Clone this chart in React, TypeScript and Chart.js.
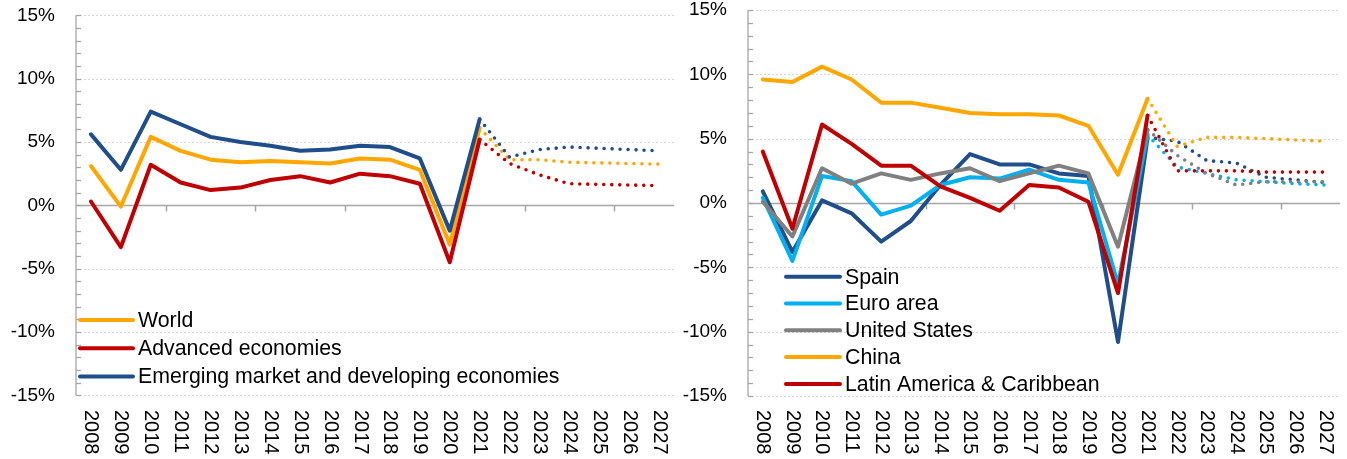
import React, { useEffect, useRef } from "react";
import { Chart, registerables } from "chart.js";

Chart.register(...registerables);

const FONT = "'Liberation Sans', Arial, Helvetica, sans-serif";

const years = [
  "2008", "2009", "2010", "2011", "2012", "2013", "2014", "2015", "2016", "2017",
  "2018", "2019", "2020", "2021", "2022", "2023", "2024", "2025", "2026", "2027",
];
const forecastFrom = 13; // 2021: dotted afterwards

const yTickValues = [-15, -10, -5, 0, 5, 10, 15];

// Left panel
const worldGrowth = [3.1, -0.1, 5.4, 4.3, 3.6, 3.4, 3.5, 3.4, 3.3, 3.7, 3.6, 2.8, -3.1, 6.1, 3.6, 3.6, 3.4, 3.35, 3.3, 3.25];
const advancedGrowth = [0.3, -3.3, 3.2, 1.8, 1.2, 1.4, 2.0, 2.3, 1.8, 2.5, 2.3, 1.7, -4.5, 5.2, 3.3, 2.4, 1.7, 1.65, 1.6, 1.55];
const emergingGrowth = [5.6, 2.8, 7.4, 6.4, 5.4, 5.0, 4.7, 4.3, 4.4, 4.7, 4.6, 3.7, -2.0, 6.8, 3.8, 4.4, 4.6, 4.5, 4.4, 4.3];

// Right panel
const spainGrowth = [0.9, -3.8, 0.2, -0.8, -3.0, -1.4, 1.4, 3.8, 3.0, 3.0, 2.3, 2.1, -10.8, 5.1, 4.8, 3.3, 3.1, 2.0, 1.8, 1.6];
const euroGrowth = [0.4, -4.5, 2.1, 1.7, -0.9, -0.2, 1.4, 2.0, 1.9, 2.6, 1.8, 1.6, -6.3, 5.3, 2.8, 2.3, 1.8, 1.65, 1.5, 1.4];
const usGrowth = [0.1, -2.6, 2.7, 1.5, 2.3, 1.8, 2.3, 2.7, 1.7, 2.3, 2.9, 2.3, -3.4, 5.7, 3.7, 2.3, 1.4, 1.65, 1.65, 1.65];
const chinaGrowth = [9.6, 9.4, 10.6, 9.6, 7.8, 7.8, 7.4, 7.0, 6.9, 6.9, 6.8, 6.0, 2.2, 8.1, 4.4, 5.1, 5.1, 5.0, 4.9, 4.8];
const latamGrowth = [4.0, -2.0, 6.1, 4.6, 2.9, 2.9, 1.3, 0.4, -0.6, 1.4, 1.2, 0.1, -7.0, 6.8, 2.5, 2.5, 2.5, 2.4, 2.4, 2.4];

const leftSeries = [
  { label: "World", data: worldGrowth, color: "#FFA600" },
  { label: "Advanced economies", data: advancedGrowth, color: "#C00000" },
  { label: "Emerging market and developing economies", data: emergingGrowth, color: "#1F4E8A" },
];
const rightSeries = [
  { label: "Spain", data: spainGrowth, color: "#1F4E8A" },
  { label: "Euro area", data: euroGrowth, color: "#00B0F0" },
  { label: "United States", data: usGrowth, color: "#808080" },
  { label: "China", data: chinaGrowth, color: "#FFA600" },
  { label: "Latin America & Caribbean", data: latamGrowth, color: "#C00000" },
];

type Layout = {
  width: number;
  height: number;
  left: number;
  right: number;
  top: number;
  bottom: number;
  labelTop: number;
  legendLineX: number;
  legendLineLen: number;
  legendTextX: number;
  legendY: number;
  legendRow: number;
};

const leftLayout: Layout = {
  width: 680, height: 459, left: 76, right: 674, top: 15.3, bottom: 395.3, labelTop: 410,
  legendLineX: 80, legendLineLen: 53, legendTextX: 138, legendY: 320, legendRow: 28.3,
};
const rightLayout: Layout = {
  width: 667, height: 459, left: 68, right: 660, top: 10, bottom: 396, labelTop: 410,
  legendLineX: 106, legendLineLen: 54, legendTextX: 165, legendY: 276.7, legendRow: 26.8,
};

const line = (ctx: CanvasRenderingContext2D, x1: number, y1: number, x2: number, y2: number) => {
  ctx.beginPath();
  ctx.moveTo(x1, y1);
  ctx.lineTo(x2, y2);
  ctx.stroke();
};

const excelFrame = {
  id: "excelFrame",
  beforeDatasetsDraw(chart: any) {
    const { ctx, chartArea: a, scales } = chart;
    const y = scales.y;
    const x = scales.x;
    ctx.save();
    // dashed major gridlines
    ctx.strokeStyle = "#d6d6d6";
    ctx.lineWidth = 1;
    ctx.setLineDash([2, 2]);
    for (const v of yTickValues) {
      if (v === 0) continue;
      const py = Math.round(y.getPixelForValue(v)) + 0.5;
      line(ctx, a.left, py, a.right, py);
    }
    ctx.setLineDash([]);
    // value axis line + minor ticks
    ctx.strokeStyle = "#a6a6a6";
    ctx.lineWidth = 1.3;
    line(ctx, a.left, a.top, a.left, a.bottom);
    for (let v = -15; v <= 15; v++) {
      const py = Math.round(y.getPixelForValue(v)) + 0.5;
      line(ctx, a.left, py, a.left + 5, py);
    }
    // category axis at zero
    const y0 = Math.round(y.getPixelForValue(0)) + 0.5;
    ctx.lineWidth = 1.5;
    line(ctx, a.left, y0, a.right, y0);
    const n = chart.data.labels.length;
    for (let k = 3; k < n; k += 3) {
      const px = Math.round((x.getPixelForValue(k - 1) + x.getPixelForValue(k)) / 2) + 0.5;
      line(ctx, px, y0, px, y0 + 6);
    }
    ctx.restore();
  },
  afterDraw(chart: any, _args: any, opts: any) {
    const { ctx, scales } = chart;
    const x = scales.x;
    const L: Layout = opts.layout;
    ctx.save();
    // rotated category labels (reading top to bottom)
    ctx.fillStyle = "#000";
    ctx.font = `20px ${FONT}`;
    ctx.textAlign = "left";
    ctx.textBaseline = "middle";
    chart.data.labels.forEach((lab: string, i: number) => {
      const px = x.getPixelForTick(i);
      ctx.save();
      ctx.translate(px, L.labelTop);
      ctx.rotate(Math.PI / 2);
      ctx.fillText(lab, 0, 0);
      ctx.restore();
    });
    // legend
    ctx.font = `21.3px ${FONT}`;
    ctx.textBaseline = "middle";
    chart.data.datasets.forEach((ds: any, i: number) => {
      const yy = L.legendY + i * L.legendRow;
      ctx.strokeStyle = ds.borderColor;
      ctx.lineWidth = 4;
      ctx.lineCap = "round";
      line(ctx, L.legendLineX, yy, L.legendLineX + L.legendLineLen, yy);
      ctx.fillStyle = "#000";
      ctx.fillText(ds.label, L.legendTextX, yy + 1);
    });
    ctx.restore();
  },
};

function makeConfig(series: { label: string; data: number[]; color: string }[], L: Layout): any {
  const n = series.length;
  return {
    type: "line",
    data: {
      labels: years,
      datasets: series.map((s, i) => ({
        label: s.label,
        data: s.data,
        borderColor: s.color,
        backgroundColor: s.color,
        borderWidth: 4,
        borderCapStyle: "round",
        borderJoinStyle: "round",
        pointRadius: 0,
        tension: 0,
        order: n - i,
        segment: {
          borderDash: (c: any) => (c.p0DataIndex >= forecastFrom ? [0, 8] : undefined),
          borderWidth: (c: any) => (c.p0DataIndex >= forecastFrom ? 3.6 : undefined),
        },
      })),
    },
    options: {
      responsive: false,
      animation: false,
      events: [],
      layout: {
        padding: { top: L.top, right: L.width - L.right, bottom: 0, left: 0 },
      },
      plugins: {
        legend: { display: false },
        tooltip: { enabled: false },
        title: { display: false },
        excelFrame: { layout: L },
      },
      scales: {
        x: {
          type: "category",
          offset: true,
          grid: { display: false, drawTicks: false },
          border: { display: false },
          ticks: { display: false },
          afterFit: (s: any) => {
            s.height = L.height - L.bottom;
            s.paddingLeft = 0;
            s.paddingRight = 0;
            s.paddingTop = 0;
            s.paddingBottom = 0;
          },
        },
        y: {
          min: -15,
          max: 15,
          grid: { display: false, drawTicks: false },
          border: { display: false },
          ticks: {
            stepSize: 5,
            padding: 21,
            color: "#000",
            font: { family: FONT, size: 19 },
            callback: (v: any) => `${v}%`,
          },
          afterFit: (s: any) => {
            s.width = L.left;
            s.paddingTop = 0;
            s.paddingBottom = 0;
            s.paddingLeft = 0;
            s.paddingRight = 0;
          },
        },
      },
    },
    plugins: [excelFrame],
  };
}

function Panel({ series, layout, x }: { series: any[]; layout: Layout; x: number }) {
  const ref = useRef<HTMLCanvasElement | null>(null);
  useEffect(() => {
    if (!ref.current) return;
    const chart = new Chart(ref.current, makeConfig(series, layout));
    return () => chart.destroy();
  }, [series, layout]);
  return (
    <canvas
      ref={ref}
      width={layout.width}
      height={layout.height}
      style={{ position: "absolute", left: x, top: 0, width: layout.width, height: layout.height }}
    />
  );
}

export default function App() {
  return (
    <div style={{ position: "absolute", left: 0, top: 0, width: 1347, height: 459, background: "#fff" }}>
      <Panel series={leftSeries} layout={leftLayout} x={0} />
      <Panel series={rightSeries} layout={rightLayout} x={680} />
    </div>
  );
}
